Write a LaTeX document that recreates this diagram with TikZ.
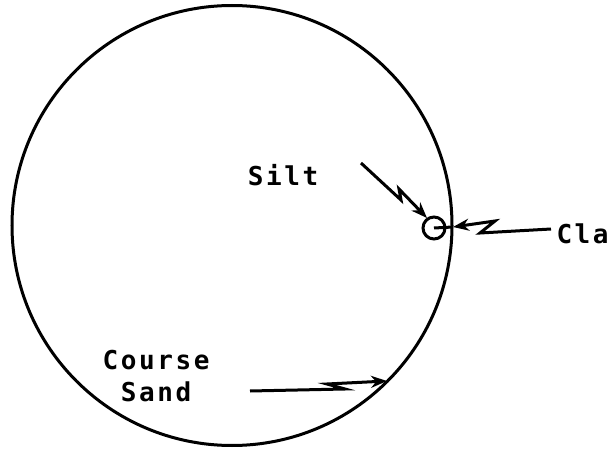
\documentclass[tikz,border=0pt]{standalone}
\usepackage{fontspec}
\setmonofont{DejaVu Sans Mono}[LetterSpace=10]
\usetikzlibrary{arrows.meta}
\begin{document}
\begin{tikzpicture}[x=1pt,y=-1pt,line width=3pt,
  lbl/.style={font=\ttfamily\bfseries\fontsize{26}{26}\selectfont,inner sep=0pt},
  zap/.style={-{Stealth[length=16pt,width=12pt]},line join=miter}]
\useasboundingbox (0,0) rectangle (608,449);
\draw (232,225.5) circle[radius=220];
\node[circle,draw,minimum size=22pt,inner sep=0pt] (clay) at (434,228) {};
\node[lbl] (silt) at (283,175) {Silt};
\node[lbl] (course) at (156,360) {Course};
\node[lbl] (sand) at (156,392) {Sand};
\node[lbl,anchor=west] (cla) at (555,234) {Cla};
\coordinate (s0) at (361,163);
\coordinate (c0) at (551,229);
\coordinate (c1) at (453,227);
\coordinate (d0) at (250,391);
\coordinate (d1) at (387,381);
\draw[zap] (s0) -- (401,200) -- (399,189) -- (427,218);
\draw[zap] (c0) -- (480,233) -- (495,221) -- (c1);
\draw (c1) -- (clay.center);
\draw[zap] (d0) -- (345,389) -- (327,384) -- (d1);
\end{tikzpicture}
\end{document}
